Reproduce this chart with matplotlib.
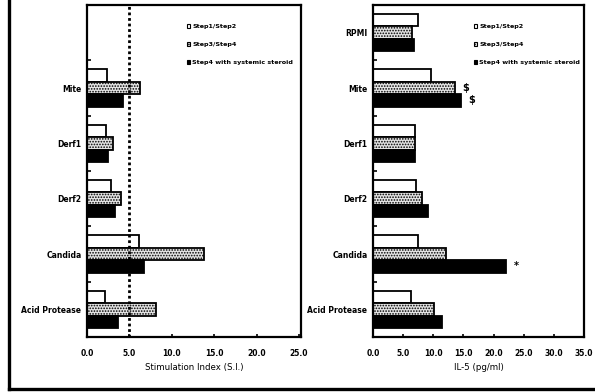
import matplotlib
matplotlib.use("Agg")
import matplotlib.pyplot as plt
from matplotlib.patches import Patch
from matplotlib.lines import Line2D
import numpy as np

# Categories, bottom to top
categories = ["Acid Protease", "Candida", "Derf2", "Derf1", "Mite", "RPMI"]
series_names = ["Step1/Step2", "Step3/Step4", "Step4 with systemic steroid"]

# Stimulation index (no RPMI row in this panel)
si_step12 = [2.1, 6.1, 2.8, 2.3, 2.4]
si_step34 = [8.1, 13.8, 4.0, 3.1, 6.25]
si_steroid = [3.7, 6.7, 3.3, 2.5, 4.2]

# IL-5 (pg/ml)
il5_step12 = [6.3, 7.5, 7.1, 7.0, 9.7, 7.4]
il5_step34 = [10.1, 12.1, 8.2, 7.0, 13.6, 6.4]
il5_steroid = [11.4, 22.1, 9.2, 7.0, 14.6, 6.8]

si_ticks = [0, 5, 10, 15, 20, 25]
il5_ticks = [0, 5, 10, 15, 20, 25, 30, 35]
si_threshold = 5.0

# Significance marks on the IL-5 panel: (category, series index, symbol)
il5_marks = [("Mite", 1, "$"), ("Mite", 2, "$"), ("Candida", 2, "*")]

W, H = 595, 392
fig = plt.figure(figsize=(W / 100, H / 100), dpi=100)
fig.patch.set_facecolor("white")

bar_h = 0.225
offsets = [bar_h, 0.0, -bar_h]
styles = [
    dict(facecolor="white", edgecolor="black", hatch=None),
    dict(facecolor="#e4e4e4", edgecolor="black", hatch="......"),
    dict(facecolor="black", edgecolor="black", hatch=None),
]
plt.rcParams["hatch.linewidth"] = 0.8


def px_axes(x0, x1, y0, y1):
    return fig.add_axes([x0 / W, 1 - y1 / H, (x1 - x0) / W, (y1 - y0) / H])


def style_axes(ax, xmax, ticks, xlabel):
    ax.set_ylim(-0.5, 5.5)
    ax.set_xlim(0, xmax)
    for s in ax.spines.values():
        s.set_linewidth(1.6)
    ax.set_yticks(range(len(categories)))
    ax.set_yticks(np.arange(0.5, 5.0, 1.0), minor=True)
    ax.tick_params(axis="y", which="major", length=0, pad=4)
    ax.tick_params(axis="y", which="minor", length=3, width=1.2, direction="in")
    ax.set_xticks(ticks)
    ax.set_xticklabels([f"{t:.1f}" for t in ticks], fontsize=5.5, fontweight="bold")
    ax.tick_params(axis="x", length=2.5, width=1.2, direction="in", pad=9)
    ax.set_xlabel(xlabel, fontsize=6.2, labelpad=3)


def legend(ax, x):
    handles = [Patch(facecolor=st["facecolor"], edgecolor="black", hatch=st["hatch"], lw=0.8)
               for st in styles]
    leg = ax.legend(handles, series_names, loc="upper left", bbox_to_anchor=(x, 0.96),
                    frameon=False, handlelength=0.55, handleheight=0.55,
                    handletextpad=0.3, labelspacing=2.0,
                    prop=dict(size=4.6, weight="bold"))
    return leg


# Left panel: stimulation index
ax1 = px_axes(87, 301, 5, 337)
si_series = [si_step12, si_step34, si_steroid]
idx1 = np.arange(len(si_step12))
for vals, off, st in zip(si_series, offsets, styles):
    ax1.barh(idx1 + off, vals, height=bar_h, lw=1.3, **st)
ax1.axvline(si_threshold, color="black", ls=(0, (1, 1)), lw=2.0)
style_axes(ax1, 25.25, si_ticks, "Stimulation Index (S.I.)")
ax1.set_yticklabels(categories[:5] + [""], fontsize=5.5, fontweight="bold")
legend(ax1, 0.44)

# Right panel: IL-5
ax2 = px_axes(373, 584, 5, 337)
il5_series = [il5_step12, il5_step34, il5_steroid]
idx2 = np.arange(len(categories))
for vals, off, st in zip(il5_series, offsets, styles):
    ax2.barh(idx2 + off, vals, height=bar_h, lw=1.3, **st)
style_axes(ax2, 35, il5_ticks, "IL-5 (pg/ml)")
ax2.set_yticklabels(categories, fontsize=5.5, fontweight="bold")
legend(ax2, 0.45)

for cat, si, sym in il5_marks:
    i = categories.index(cat)
    v = il5_series[si][i]
    ax2.text(v + 1.2, i + offsets[si], sym, fontsize=7, fontweight="bold",
             ha="left", va="center")

# Outer frame (left and bottom edges)
fig.add_artist(Line2D([9 / W, 9 / W], [1.0, 1 - 389 / H], color="black", lw=2.4,
                      transform=fig.transFigure))
fig.add_artist(Line2D([9 / W, 1.0], [1 - 389 / H, 1 - 389 / H], color="black", lw=2.4,
                      transform=fig.transFigure))

fig.savefig("out.png", dpi=100, facecolor="white")
